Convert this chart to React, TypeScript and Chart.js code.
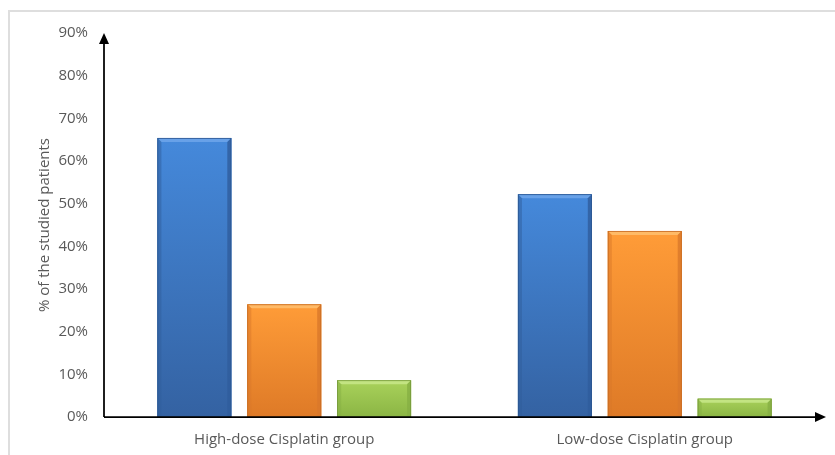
import React, { useEffect, useRef } from "react";
import { Chart, registerables } from "chart.js";

Chart.register(...registerables);

const categories = ["High-dose Cisplatin group", "Low-dose Cisplatin group"];
const seriesA = [65.4, 52.2];
const seriesB = [26.4, 43.6];
const seriesC = [8.6, 4.3];
const yTicks = [0, 10, 20, 30, 40, 50, 60, 70, 80, 90];

const palettes = [
  { top: "#4589DB", bottom: "#3462A2", bevelTop: "#6FA6EA", side: "#2F5D9C", edge: "#2C5690" },
  { top: "#FF9C38", bottom: "#DE7A27", bevelTop: "#FFC06E", side: "#D9782A", edge: "#C66A22" },
  { top: "#A9D25B", bottom: "#8BB544", bevelTop: "#C8E88A", side: "#86AF43", edge: "#74983A" },
];

const FONT = "'Open Sans', sans-serif";

const bevelPlugin = {
  id: "bevelBars",
  afterDatasetsDraw(chart: any) {
    const ctx = chart.ctx;
    chart.data.datasets.forEach((_: any, di: number) => {
      const meta = chart.getDatasetMeta(di);
      const p = palettes[di];
      meta.data.forEach((bar: any) => {
        const { x, y, base, width } = bar.getProps(["x", "y", "base", "width"], true);
        const l = x - width / 2;
        const r = x + width / 2;
        const t = Math.min(y, base);
        const b = Math.max(y, base);
        const h = b - t;
        const bv = Math.min(4, h / 2);
        ctx.save();
        const g = ctx.createLinearGradient(0, t, 0, b);
        g.addColorStop(0, p.top);
        g.addColorStop(1, p.bottom);
        ctx.fillStyle = g;
        ctx.fillRect(l, t, width, h);
        // top bevel
        ctx.fillStyle = p.bevelTop;
        ctx.globalAlpha = 0.85;
        ctx.beginPath();
        ctx.moveTo(l, t);
        ctx.lineTo(r, t);
        ctx.lineTo(r - bv, t + bv);
        ctx.lineTo(l + bv, t + bv);
        ctx.closePath();
        ctx.fill();
        // left side
        ctx.globalAlpha = 0.5;
        ctx.fillStyle = p.side;
        ctx.beginPath();
        ctx.moveTo(l, t);
        ctx.lineTo(l + bv, t + bv);
        ctx.lineTo(l + bv, b);
        ctx.lineTo(l, b);
        ctx.closePath();
        ctx.fill();
        // right side
        ctx.globalAlpha = 0.8;
        ctx.beginPath();
        ctx.moveTo(r, t);
        ctx.lineTo(r - bv, t + bv);
        ctx.lineTo(r - bv, b);
        ctx.lineTo(r, b);
        ctx.closePath();
        ctx.fill();
        ctx.globalAlpha = 1;
        ctx.strokeStyle = p.edge;
        ctx.lineWidth = 0.8;
        ctx.strokeRect(l + 0.4, t + 0.4, width - 0.8, h - 0.4);
        ctx.restore();
      });
    });
  },
  afterDraw(chart: any) {
    const ctx = chart.ctx;
    const { left, right, top, bottom } = chart.chartArea;
    ctx.save();
    ctx.strokeStyle = "#000";
    ctx.fillStyle = "#000";
    ctx.lineWidth = 1.75;
    ctx.beginPath();
    ctx.moveTo(left, bottom);
    ctx.lineTo(left, top + 8);
    ctx.moveTo(left, bottom);
    ctx.lineTo(right - 8, bottom);
    ctx.stroke();
    // y arrow
    ctx.beginPath();
    ctx.moveTo(left, top);
    ctx.lineTo(left + 5, top + 11);
    ctx.lineTo(left - 5, top + 11);
    ctx.closePath();
    ctx.fill();
    // x arrow
    ctx.beginPath();
    ctx.moveTo(right + 1, bottom);
    ctx.lineTo(right - 10, bottom + 5);
    ctx.lineTo(right - 10, bottom - 5);
    ctx.closePath();
    ctx.fill();
    ctx.restore();
  },
};

export default function App() {
  const ref = useRef<HTMLCanvasElement | null>(null);
  useEffect(() => {
    if (!ref.current) return;
    const chart = new Chart(ref.current, {
      type: "bar",
      data: {
        labels: categories,
        datasets: [
          { label: "A", data: seriesA, backgroundColor: palettes[0].top },
          { label: "B", data: seriesB, backgroundColor: palettes[1].top },
          { label: "C", data: seriesC, backgroundColor: palettes[2].top },
        ],
      },
      options: {
        responsive: false,
        animation: false,
        layout: { padding: { left: 0, right: 10, top: 33, bottom: 0 } },
        datasets: { bar: { categoryPercentage: 0.748, barPercentage: 0.822 } },
        plugins: { legend: { display: false }, tooltip: { enabled: false } },
        scales: {
          x: {
            grid: { display: false, drawTicks: false },
            border: { display: false },
            ticks: { color: "#595959", font: { family: FONT, size: 15 }, padding: 14 },
            afterFit: (s: any) => { s.height = 38; },
          },
          y: {
            min: 0,
            max: 90,
            afterBuildTicks: (s: any) => { s.ticks = yTicks.map((v) => ({ value: v })); },
            grid: { display: false, drawTicks: false },
            border: { display: false },
            ticks: {
              color: "#595959",
              font: { family: FONT, size: 15 },
              padding: 16,
              callback: (v: any) => v + "%",
            },
            title: {
              display: true,
              text: "% of the studied patients",
              color: "#595959",
              font: { family: FONT, size: 15 },
              padding: { top: 36, bottom: 0 },
            },
            afterFit: (s: any) => { s.width = 104; },
          },
        },
      },
      plugins: [bevelPlugin],
    });
    return () => chart.destroy();
  }, []);
  return (
    <div style={{ position: "absolute", left: 0, top: 0, width: 835, height: 455, overflow: "hidden", background: "#fff" }}>
      <div style={{ position: "absolute", left: 8, top: 10, width: 900, height: 500, border: "2px solid #dedede" }} />
      <canvas ref={ref} width={835} height={455} style={{ position: "absolute", left: 0, top: 0 }} />
    </div>
  );
}
